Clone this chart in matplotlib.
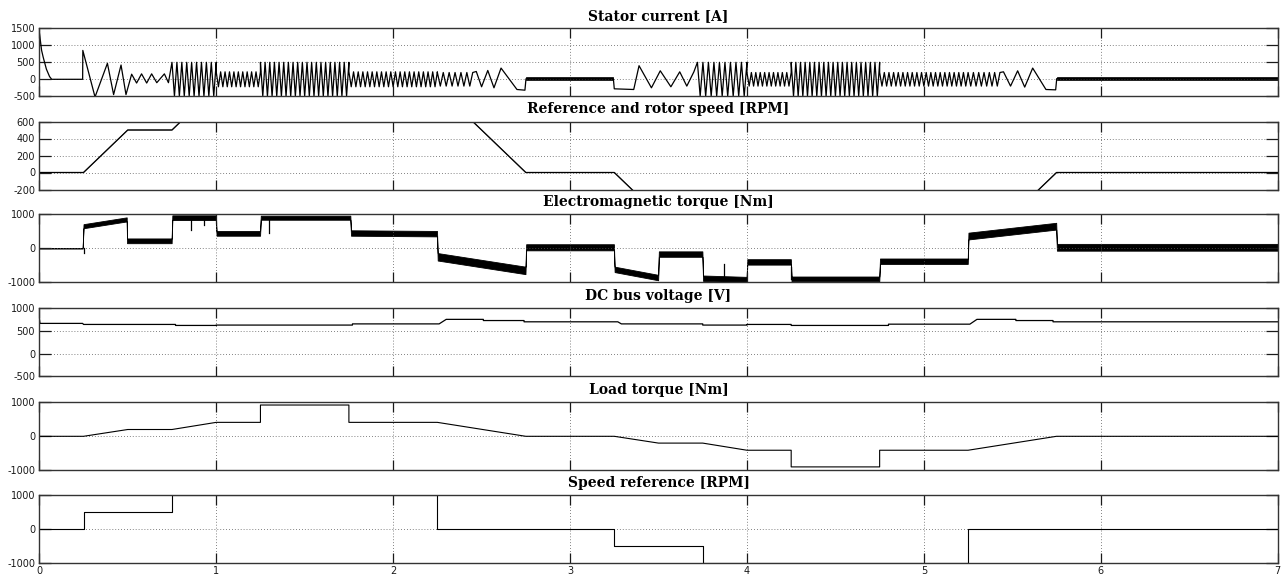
import numpy as np
import matplotlib
matplotlib.use("Agg")
import matplotlib.pyplot as plt

plt.rcParams["axes.unicode_minus"] = False
plt.rcParams["font.family"] = "DejaVu Sans"

# ---- signals (time in s) ----

# stator current: readable turning points of the slow parts of the wave
cur_t = [0.0, 0.001, 0.013, 0.022, 0.040, 0.058, 0.070, 0.245,
         0.246, 0.315, 0.385, 0.420, 0.462, 0.490,
         0.522, 0.550, 0.578, 0.607, 0.635, 0.664, 0.707, 0.730,
         2.470, 2.500, 2.535, 2.570, 2.610, 2.700, 2.745,
         3.250, 3.360, 3.390, 3.460, 3.510, 3.570, 3.620, 3.660, 3.700,
         5.450, 5.490, 5.530, 5.570, 5.615, 5.690, 5.745]
cur_i = [0, 1350, 850, 650, 300, 80, 0, 0,
         850, -520, 470, -450, 420, -450,
         150, -110, 160, -110, 160, -100, 160, -100,
         230, -220, 260, -250, 330, -300, -320,
         -280, -300, 400, -250, 250, -220, 220, -200, 220,
         220, -200, 250, -230, 330, -300, -310]

# stator current: fast stretches -> start, end, number of cycles, peak value
fast_t0 = [0.750, 1.000, 1.250, 1.750, 2.250, 3.720, 4.000, 4.250, 4.750, 5.250]
fast_t1 = [1.000, 1.250, 1.750, 2.250, 2.450, 4.000, 4.250, 4.750, 5.250, 5.430]
fast_cyc = [9, 10, 19, 19, 6, 9, 10, 19, 19, 6]
fast_amp = [500, 220, 500, 220, 200, 500, 200, 500, 200, 200]

# stator current: idle stretches -> start, end, level, noise half width
idle_t0 = [2.750, 5.750]
idle_t1 = [3.245, 7.000]
idle_c = [15, 20]
idle_hw = [45, 50]

# reference / rotor speed [RPM]
spd_t = [0, 0.25, 0.50, 0.75, 1.00, 2.25, 2.75, 3.25, 3.50, 3.75, 4.00, 5.25, 5.75, 7.0]
spd_ref = [0, 0, 500, 500, 1000, 1000, 0, 0, -500, -500, -1000, -1000, 0, 0]
spd_rotor = [0, 0, 500, 500, 1000, 1000, 0, 0, -500, -500, -1000, -1000, 0, 0]

# electromagnetic torque [Nm]: band centre and half width
tq_t = [0, 0.245, 0.25, 0.494, 0.496, 0.748, 0.752, 0.998, 1.002, 1.248, 1.252, 1.758,
        1.762, 2.248, 2.252, 2.748, 2.752, 3.248, 3.252, 3.498, 3.502, 3.748, 3.752,
        3.998, 4.002, 4.248, 4.252, 4.748, 4.752, 5.248, 5.252, 5.748, 5.752, 7.0]
tq_c = [0, 0, 650, 850, 220, 220, 900, 900, 440, 440, 900, 900,
        450, 430, -250, -650, 30, 30, -620, -860, -170, -170, -880,
        -920, -400, -400, -900, -900, -380, -380, 360, 650, 30, 30]
tq_hw = [8, 8, 60, 60, 70, 70, 70, 70, 70, 70, 60, 60,
         80, 80, 110, 110, 90, 90, 80, 80, 80, 80, 80,
         80, 80, 80, 70, 70, 80, 80, 100, 100, 100, 100]
# short torque spikes: time, band level, value reached
spike_t = [0.25, 0.86, 0.93, 1.30, 3.87, 4.25]
spike_base = [0, 900, 900, 900, -900, -900]
spike_v = [-150, 540, 700, 440, -470, -550]

# DC bus voltage [V]
dc_t = [0, 0.001, 0.004, 0.245, 0.25, 0.77, 0.77, 1.0, 1.0, 1.77, 1.77, 2.26, 2.30, 2.51, 2.51,
        2.74, 2.74, 3.27, 3.29, 3.75, 3.75, 4.0, 4.0, 4.25, 4.25, 4.80, 4.80, 5.26, 5.30, 5.52,
        5.52, 5.73, 5.73, 7.0]
dc_v = [756, 756, 667, 667, 644, 644, 622, 622, 630, 630, 656, 656, 756, 756, 730,
        730, 702, 702, 656, 656, 630, 630, 644, 644, 622, 622, 650, 650, 756, 756,
        730, 730, 702, 702]

# load torque [Nm]
load_t = [0, 0.25, 0.50, 0.75, 1.00, 1.25, 1.25, 1.75, 1.75, 2.25, 2.75, 3.25, 3.50, 3.75,
          4.00, 4.25, 4.25, 4.75, 4.75, 5.25, 5.75, 7.0]
load_v = [0, 0, 200, 200, 410, 410, 920, 920, 410, 410, 0, 0, -200, -200,
          -410, -410, -900, -900, -410, -410, 0, 0]

# speed reference steps [RPM]
ref_t = [0, 0.25, 0.75, 2.25, 3.25, 3.75, 5.25, 7.0]
ref_v = [0, 500, 1000, 0, -500, -1000, 0, 0]

titles = ["Stator current [A]", "Reference and rotor speed [RPM]",
          "Electromagnetic torque [Nm]", "DC bus voltage [V]",
          "Load torque [Nm]", "Speed reference [RPM]"]
yticks = [[-500, 0, 500, 1000, 1500], [-200, 0, 200, 400, 600], [-1000, 0, 1000],
          [-500, 0, 500, 1000], [-1000, 0, 1000], [-1000, 0, 1000]]


def zigzag(t0, t1, cycles, amp):
    n = int(round(2 * cycles))
    t = np.linspace(t0, t1, n + 1)
    sign = np.where(np.arange(n + 1) % 2 == 0, 1.0, -1.0)
    return t, amp * sign


# assemble the current trace
pts_t = list(cur_t)
pts_i = list(cur_i)
for a, b, c, amp in zip(fast_t0, fast_t1, fast_cyc, fast_amp):
    zt, zi = zigzag(a, b, c, amp)
    pts_t += list(zt)
    pts_i += list(zi)
for a, b, c in zip(idle_t0, idle_t1, idle_c):
    pts_t += [a + 0.001, b]
    pts_i += [c, c]
order = np.argsort(pts_t, kind="stable")
cur_tt = np.asarray(pts_t)[order]
cur_ii = np.asarray(pts_i)[order]

# ---- layout ----
W, H = 1281, 574
left_px, right_px = 39.3, 1277.7
tops_px = [28.3, 121.5, 214.3, 308.3, 402.3, 495.0]
panel_h = 68.0

fig = plt.figure(figsize=(W / 100, H / 100), dpi=100)
axes = []
for k, top in enumerate(tops_px):
    ax = fig.add_axes([left_px / W, 1 - (top + panel_h) / H,
                       (right_px - left_px) / W, panel_h / H])
    ax.set_xlim(0, 7)
    ax.set_ylim(yticks[k][0], yticks[k][-1])
    ax.set_yticks(yticks[k])
    ax.set_xticks(range(8))
    ax.grid(True, linestyle=(0, (1, 2.5)), color="0.35", linewidth=0.6)
    ax.tick_params(axis="y", direction="in", length=8.5, width=0.9, left=True, right=True,
                   labelsize=7, pad=3, colors="0.1")
    ax.tick_params(axis="x", direction="in", length=7.5, width=0.9, top=True, bottom=True,
                   labelsize=7, pad=2, colors="0.1")
    if k < 5:
        ax.tick_params(axis="x", labelbottom=False)
    for s in ax.spines.values():
        s.set_linewidth(1.0)
        s.set_color("0.2")
    ax.set_title(titles[k], fontsize=10, fontweight="bold", family="DejaVu Serif", pad=6)
    axes.append(ax)

ax = axes[0]
ax.plot(cur_tt, cur_ii, color="k", lw=0.9)
for a, b, c, hw in zip(idle_t0, idle_t1, idle_c, idle_hw):
    ax.fill_between([a, b], [c - hw, c - hw], [c + hw, c + hw], color="k", lw=0.5)

ax = axes[1]
ax.plot(spd_t, spd_ref, color="0.3", lw=0.9)
ax.plot(spd_t, spd_rotor, color="k", lw=0.8)

ax = axes[2]
tq_c = np.asarray(tq_c, float)
tq_hw = np.asarray(tq_hw, float)
ax.fill_between(tq_t, tq_c - tq_hw, tq_c + tq_hw, color="k", lw=0.6, edgecolor="k")
for st, sb, sv in zip(spike_t, spike_base, spike_v):
    ax.plot([st, st], [sb, sv], color="k", lw=0.9)

ax = axes[3]
ax.plot(dc_t, dc_v, color="k", lw=0.9)

ax = axes[4]
ax.plot(load_t, load_v, color="k", lw=0.8)

ax = axes[5]
ax.step(ref_t, ref_v, where="post", color="k", lw=0.8)

fig.savefig("out.png", dpi=100)
